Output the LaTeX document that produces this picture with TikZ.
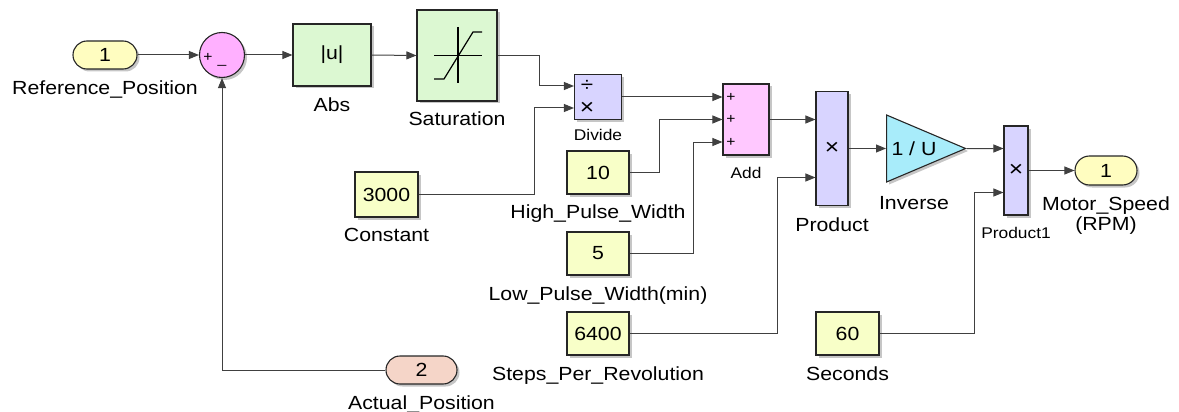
\documentclass[tikz,border=0pt]{standalone}
\usepackage{fontspec}
\setmainfont[FakeStretch=1.12]{Liberation Sans}
\usepackage{tikz}
\usetikzlibrary{positioning,arrows.meta,shapes.geometric,shapes.misc,shadows}
\definecolor{PortYellow}{HTML}{FFFDC0}
\definecolor{ConstYellow}{HTML}{F8FFC8}
\definecolor{BlockGreen}{HTML}{DCF8D2}
\definecolor{ProdBlue}{HTML}{D8D4FF}
\definecolor{AddPink}{HTML}{FFC8FF}
\definecolor{SumPink}{HTML}{FFB0FF}
\definecolor{InvCyan}{HTML}{A8ECFA}
\definecolor{PortPeach}{HTML}{F5D5C8}
\definecolor{WireGray}{HTML}{404040}

\tikzset{
  blk/.style={draw=black!85, line width=1.1pt, inner sep=0pt,
    drop shadow={shadow xshift=2.5pt, shadow yshift=-2.5pt, opacity=.45},
    font=\fontsize{19}{22}\selectfont},
  port/.style={blk, rounded rectangle, minimum width=64pt, minimum height=28pt},
  constblk/.style={blk, fill=ConstYellow, minimum width=62pt, minimum height=43pt},
  lbl/.style={inner sep=0pt, text height=14pt, text depth=4pt,
    font=\fontsize{19}{21}\selectfont},
  twolbl/.style={inner sep=0pt, align=center, font=\fontsize{19}{19.5}\selectfont},
  smalllbl/.style={inner sep=0pt, text height=12pt, text depth=3pt,
    font=\fontsize{15.5}{18}\selectfont},
  sgn/.style={inner sep=0pt, font=\fontsize{14}{14}\selectfont},
  sig/.style={draw=WireGray, line width=1pt,
    -{Triangle[length=10pt,width=8pt]}}
}

\begin{document}
\begin{tikzpicture}[x=1pt,y=-1pt]
    \useasboundingbox (0,0) rectangle (1179,412);

    % Inputs and error sum
    \node[port, fill=PortYellow] (in1) at (105,55) {1};
    \node[blk, circle, fill=SumPink, minimum size=45pt] (sum) at (222,55) {};
    \node[sgn] (sumPlus) at ([xshift=-14pt,yshift=-2pt]sum.center) {+};
    \node[sgn] (sumMinus) at ([yshift=-10pt]sum.center) {\_};
    \node[port, fill=PortPeach, minimum width=71pt] (in2) at (421.5,370) {2};

    % Abs and Saturation
    \node[blk, fill=BlockGreen, minimum width=78pt, minimum height=62pt] (abs) at (332,55) {|u|};
    \node[blk, fill=BlockGreen, minimum width=80pt, minimum height=91pt] (sat) at (457,55.5) {};
    \begin{scope}[shift={(sat.center)}, line width=1.2pt]
        \draw (1,-28.5) -- (1,27.5);
        \draw (-23,0) -- (25,0);
        \draw (-23,23.5) -- (-13,23.5) -- (16,-23.5) -- (25,-23.5);
    \end{scope}

    % Divide, Add and constants
    \node[blk, fill=ProdBlue, minimum width=47pt, minimum height=45pt] (divide) at (598,97) {};
    \node[sgn, font=\fontsize{20}{20}\selectfont] (divSym) at ([xshift=-11pt,yshift=11pt]divide.center) {÷};
    \node[sgn, font=\fontsize{22}{22}\selectfont] (mulSym) at ([xshift=-11pt,yshift=-11pt]divide.center) {×};
    \node[constblk, minimum width=63pt, minimum height=45pt] (const) at (386.5,194.5) {3000};
    \node[constblk] (hpw) at (598,172.5) {10};
    \node[constblk] (lpw) at (598,253.5) {5};
    \node[constblk] (spr) at (598,333.5) {6400};
    \node[blk, fill=AddPink, minimum width=46pt, minimum height=71pt] (add) at (746,119.5) {};
    \node[sgn] (addP1) at ([xshift=-15pt,yshift=22.5pt]add.center) {+};
    \node[sgn] (addP2) at ([xshift=-15pt]add.center) {+};
    \node[sgn] (addP3) at ([xshift=-15pt,yshift=-22.5pt]add.center) {+};

    % Product, Inverse, Product1 and output
    \node[blk, fill=ProdBlue, minimum width=32pt, minimum height=114pt] (prod) at (832,148.5) {\fontsize{22}{22}\selectfont×};
    \node[blk, fill=InvCyan, isosceles triangle, isosceles triangle stretches,
          minimum width=67pt, minimum height=79pt, anchor=west] (inv) at (886,148.5) {1 / U\hspace{22pt}};
    \node[blk, fill=ProdBlue, minimum width=24pt, minimum height=89pt] (prod1) at (1016,170.5) {\fontsize{22}{22}\selectfont×};
    \node[port, fill=PortYellow, minimum width=62pt, minimum height=29pt] (out1) at (1106,170.5) {1};
    \node[constblk, minimum width=63pt] (sec) at (847.5,333.5) {60};

    % Block names
    \node[lbl, below=11pt of in1] (in1Lbl) {Reference\_Position};
    \node[lbl, below=11pt of in2] (in2Lbl) {Actual\_Position};
    \node[lbl, below=11pt of abs] (absLbl) {Abs};
    \node[lbl, below=10pt of sat] (satLbl) {Saturation};
    \node[smalllbl, below=8pt of divide] (divLbl) {Divide};
    \node[lbl, below=10pt of const] (constLbl) {Constant};
    \node[lbl, below=10pt of hpw] (hpwLbl) {High\_Pulse\_Width};
    \node[lbl, below=11pt of lpw] (lpwLbl) {Low\_Pulse\_Width(min)};
    \node[lbl, below=11pt of spr] (sprLbl) {Steps\_Per\_Revolution};
    \node[smalllbl, below=10.5pt of add] (addLbl) {Add};
    \node[lbl, below=11pt of prod] (prodLbl) {Product};
    \node[lbl, below=46.5pt of inv.center] (invLbl) {Inverse};
    \node[smalllbl, below=10.5pt of prod1] (prod1Lbl) {Product1};
    \node[twolbl, below=11pt of out1] (out1Lbl) {Motor\_Speed\\(RPM)};
    \node[lbl, below=11pt of sec] (secLbl) {Seconds};

    % Signal lines
    \draw[sig] (in1.east) -- (sum.west);
    \draw[sig] (sum.east) -- (abs.west);
    \draw[sig] (abs.east) -- (sat.west);
    \draw[sig] (sat.east) -- ++(42,0) |- ([yshift=11pt]divide.west);
    \draw[sig] (const.east) -- ++(116,0) |- ([yshift=-11pt]divide.west);
    \draw[sig] (divide.east) -- ([yshift=22.5pt]add.west);
    \draw[sig] (hpw.east) -- ++(30,0) |- (add.west);
    \draw[sig] (lpw.east) -- ++(64,0) |- ([yshift=-22.5pt]add.west);
    \draw[sig] (add.east) -- ([yshift=29pt]prod.west);
    \draw[sig] (spr.east) -- ++(148,0) |- ([yshift=-29pt]prod.west);
    \draw[sig] (prod.east) -- (inv.west);
    \draw[sig] (inv.east) -- ([yshift=22pt]prod1.west);
    \draw[sig] (sec.east) -- ++(95,0) |- ([yshift=-22pt]prod1.west);
    \draw[sig] (prod1.east) -- (out1.west);
    \draw[sig] (in2.west) -| (sum.south);
\end{tikzpicture}
\end{document}
